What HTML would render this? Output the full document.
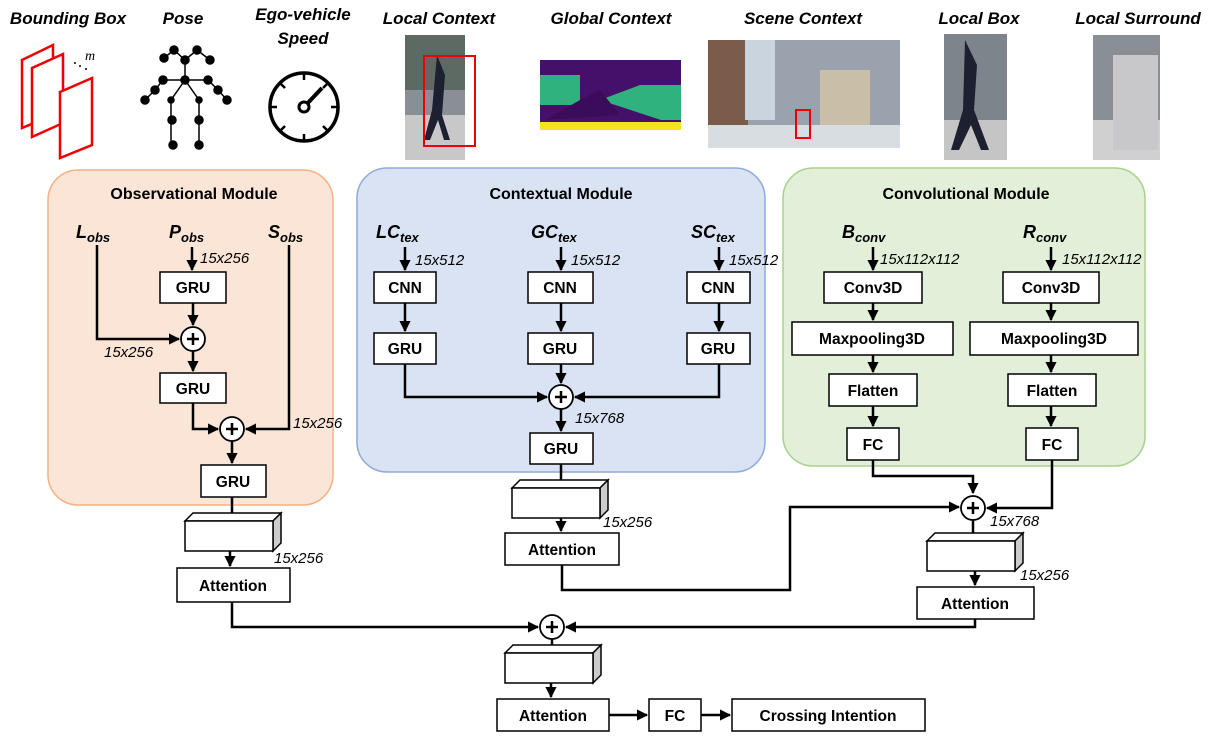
<!DOCTYPE html>
<html><head><meta charset="utf-8"><style>
html,body{margin:0;padding:0;background:#fff;}
svg{display:block;font-family:"Liberation Sans",sans-serif;}
.t{font-weight:bold;font-size:16px;}
.h{font-weight:bold;font-style:italic;font-size:17px;}
.b{font-weight:bold;font-size:15.5px;}
.d{font-style:italic;font-size:15px;}
.v{font-weight:bold;font-style:italic;font-size:18px;font-family:"Liberation Sans",sans-serif;}
.box{fill:#fff;stroke:#000;stroke-width:1.5;}
.ln{fill:none;stroke:#000;stroke-width:2.5;}
</style></head><body>
<svg width="1215" height="742" viewBox="0 0 1215 742" xmlns="http://www.w3.org/2000/svg">
<defs>
<marker id="a" viewBox="0 0 10 10" refX="9" refY="5" markerWidth="4.5" markerHeight="4.5" orient="auto"><path d="M0,0L10,5L0,10z" fill="#000"/></marker>
<g id="blk"><polygon points="0,8 8,0 96,0 88,8" fill="#fff" stroke="#000" stroke-width="1.5"/><polygon points="88,8 96,0 96,30 88,38" fill="#ccc" stroke="#000" stroke-width="1.5"/><rect x="0" y="8" width="88" height="30" class="box"/></g>
<g id="plus"><circle r="12" fill="#fff" stroke="#000" stroke-width="1.8"/><path d="M-6,0H6M0,-6V6" stroke="#000" stroke-width="2.5"/></g>
</defs>

<g class="h" text-anchor="middle">
<text x="68" y="24">Bounding Box</text><text x="183" y="24">Pose</text>
<text x="303" y="20">Ego-vehicle</text><text x="303" y="44">Speed</text>
<text x="439" y="24">Local Context</text><text x="611" y="24">Global Context</text>
<text x="803" y="24">Scene Context</text><text x="979" y="24">Local Box</text><text x="1138" y="24">Local Surround</text>
</g>
<g fill="#fff" stroke="#e00" stroke-width="2.5">
<polygon points="22,60 53,45 53,115 22,128"/><polygon points="32,68 63,54 63,123 32,137"/><polygon points="60,92 92,78 92,145 60,158"/>
</g>
<text x="85" y="60" font-style="italic" font-size="14" font-family="Liberation Serif">m</text>
<circle cx="75" cy="63" r="1" fill="#000"/><circle cx="80" cy="66" r="1" fill="#000"/><circle cx="86" cy="69" r="1" fill="#000"/>
<g stroke="#000" stroke-width="1.5" fill="#000">
<path d="M174,50L185,60L197,50L210,60M164,58L174,50M185,60V80M163,80H208M163,80L155,90L145,100M208,80L218,90L227,100M185,80L171,100V120V145M185,80L199,100V120V145" fill="none"/>
<circle cx="174" cy="50" r="4"/><circle cx="197" cy="50" r="4"/><circle cx="164" cy="58" r="4"/><circle cx="210" cy="60" r="4"/><circle cx="185" cy="60" r="4"/>
<circle cx="163" cy="80" r="4"/><circle cx="185" cy="80" r="4"/><circle cx="208" cy="80" r="4"/><circle cx="155" cy="90" r="4"/><circle cx="218" cy="90" r="4"/><circle cx="145" cy="100" r="4"/><circle cx="227" cy="100" r="4"/>
<circle cx="171" cy="100" r="3"/><circle cx="199" cy="100" r="3"/><circle cx="172" cy="120" r="4"/><circle cx="199" cy="120" r="4"/><circle cx="173" cy="145" r="4"/><circle cx="199" cy="145" r="4"/>
</g>
<g stroke="#000" fill="none"><circle cx="304" cy="107" r="34" stroke-width="3.5"/>
<path d="M304,73V80M304,141V134M270,107H277M338,107H331M280,83L285,88M328,83L323,88M280,131L285,126M328,131L323,126" stroke-width="2.5"/>
<path d="M304,107L322,88" stroke-width="4"/><circle cx="304" cy="107" r="5" stroke-width="3" fill="#fff"/></g>
<rect x="405" y="35" width="60" height="125" fill="#8a8f96"/><rect x="405" y="35" width="60" height="55" fill="#5d6a63"/><rect x="405" y="115" width="60" height="45" fill="#c8c8c8"/><path d="M437,55l8,20l-3,40l8,25l-6,0l-6,-20l-8,20l-6,0l8,-30z" fill="#1c2030"/><rect x="424" y="56" width="51" height="90" fill="none" stroke="#e00" stroke-width="2"/>
<rect x="540" y="60" width="141" height="70" fill="#45106a"/><path d="M540,75h40v30h-40z M600,100l40,-15h41v35h-20z" fill="#2fb27c"/><path d="M540,122h141v8h-141z" fill="#f3e420"/><path d="M545,120l35,-20l20,-10l20,25z" fill="#3a0c5a"/>
<rect x="708" y="40" width="192" height="108" fill="#9aa3ad"/><rect x="708" y="40" width="40" height="90" fill="#7b5b4a"/><rect x="745" y="40" width="30" height="80" fill="#c9d4de"/><rect x="820" y="70" width="50" height="60" fill="#c9bfa8"/><rect x="708" y="125" width="192" height="23" fill="#d8dde2"/><rect x="796" y="110" width="14" height="28" fill="none" stroke="#e00" stroke-width="2"/>
<rect x="944" y="34" width="63" height="126" fill="#7e848b"/><rect x="944" y="120" width="63" height="40" fill="#c5c5c5"/><path d="M965,40l12,25l-3,45l15,40l-8,0l-10,-25l-12,25l-8,0l12,-40z" fill="#1c2030"/>
<rect x="1093" y="35" width="67" height="125" fill="#8a8f96"/><rect x="1093" y="120" width="67" height="40" fill="#d0d0d0"/><rect x="1113" y="55" width="45" height="95" fill="#c8c8cb"/>

<rect x="48" y="170" width="285" height="335" rx="30" fill="#fbe5d6" stroke="#f4b183" stroke-width="1.5"/>
<rect x="357" y="168" width="408" height="304" rx="30" fill="#dae3f3" stroke="#8faadc" stroke-width="1.5"/>
<rect x="783" y="168" width="362" height="298" rx="30" fill="#e2f0d9" stroke="#a9d18e" stroke-width="1.5"/>
<g class="t" text-anchor="middle"><text x="194" y="199">Observational Module</text><text x="561" y="199">Contextual Module</text><text x="966" y="199">Convolutional Module</text></g>

<g class="v"><text x="76" y="238">L<tspan font-size="13" dy="4">obs</tspan></text><text x="169" y="238">P<tspan font-size="13" dy="4">obs</tspan></text><text x="268" y="238">S<tspan font-size="13" dy="4">obs</tspan></text></g>
<path class="ln" d="M192,247V270" marker-end="url(#a)"/>
<path class="ln" d="M97,245V339H179" marker-end="url(#a)"/>
<path class="ln" d="M193,303V325" marker-end="url(#a)"/>
<path class="ln" d="M193,351V371" marker-end="url(#a)"/>
<path class="ln" d="M193,403V429H218" marker-end="url(#a)"/>
<path class="ln" d="M289,245V429H246" marker-end="url(#a)"/>
<path class="ln" d="M232,441V463" marker-end="url(#a)"/>
<path class="ln" d="M232,497V517"/>
<path class="ln" d="M230,550V566" marker-end="url(#a)"/>
<rect x="160" y="272" width="66" height="31" class="box"/><rect x="160" y="373" width="66" height="30" class="box"/><rect x="201" y="465" width="65" height="32" class="box"/>
<use href="#plus" x="193" y="339"/><use href="#plus" x="232" y="429"/>
<g class="d"><text x="200" y="263">15x256</text><text x="104" y="357">15x256</text><text x="293" y="428">15x256</text><text x="274" y="563">15x256</text></g>
<use href="#blk" x="185" y="513"/>
<rect x="177" y="568" width="113" height="34" class="box"/>

<g class="v"><text x="376" y="238">LC<tspan font-size="13" dy="4">tex</tspan></text><text x="531" y="238">GC<tspan font-size="13" dy="4">tex</tspan></text><text x="691" y="238">SC<tspan font-size="13" dy="4">tex</tspan></text></g>
<path class="ln" d="M405,247V270" marker-end="url(#a)"/><path class="ln" d="M561,247V270" marker-end="url(#a)"/><path class="ln" d="M719,247V270" marker-end="url(#a)"/>
<path class="ln" d="M405,303V331" marker-end="url(#a)"/><path class="ln" d="M561,303V331" marker-end="url(#a)"/><path class="ln" d="M719,303V331" marker-end="url(#a)"/>
<path class="ln" d="M405,364V397H547" marker-end="url(#a)"/>
<path class="ln" d="M719,364V397H575" marker-end="url(#a)"/>
<path class="ln" d="M561,364V383" marker-end="url(#a)"/>
<path class="ln" d="M561,409V431" marker-end="url(#a)"/>
<path class="ln" d="M561,464V482"/>
<path class="ln" d="M561,518V531" marker-end="url(#a)"/>
<path class="ln" d="M562,565V590H790V507H959" marker-end="url(#a)"/>
<rect x="374" y="272" width="62" height="31" class="box"/><rect x="528" y="272" width="65" height="31" class="box"/><rect x="687" y="272" width="63" height="31" class="box"/>
<rect x="374" y="333" width="62" height="31" class="box"/><rect x="528" y="333" width="65" height="31" class="box"/><rect x="687" y="333" width="63" height="31" class="box"/>
<use href="#plus" x="561" y="397"/>
<rect x="530" y="433" width="63" height="31" class="box"/>
<use href="#blk" x="512" y="480"/>
<rect x="505" y="533" width="114" height="32" class="box"/>
<g class="d"><text x="415" y="265">15x512</text><text x="571" y="265">15x512</text><text x="729" y="265">15x512</text><text x="575" y="423">15x768</text><text x="603" y="527">15x256</text></g>

<g class="v"><text x="842" y="238">B<tspan font-size="13" dy="4">conv</tspan></text><text x="1023" y="238">R<tspan font-size="13" dy="4">conv</tspan></text></g>
<path class="ln" d="M873,247V270" marker-end="url(#a)"/><path class="ln" d="M1051,247V270" marker-end="url(#a)"/>
<path class="ln" d="M873,303V320" marker-end="url(#a)"/><path class="ln" d="M1051,303V320" marker-end="url(#a)"/>
<path class="ln" d="M873,355V372" marker-end="url(#a)"/><path class="ln" d="M1051,355V372" marker-end="url(#a)"/>
<path class="ln" d="M873,406V426" marker-end="url(#a)"/><path class="ln" d="M1051,406V426" marker-end="url(#a)"/>
<path class="ln" d="M873,460V476H973V493" marker-end="url(#a)"/>
<path class="ln" d="M1052,460V508H987" marker-end="url(#a)"/>
<path class="ln" d="M973,520V535"/>
<path class="ln" d="M975,570V585" marker-end="url(#a)"/>
<path class="ln" d="M975,619V627H566" marker-end="url(#a)"/>
<rect x="824" y="272" width="98" height="31" class="box"/><rect x="1003" y="272" width="96" height="31" class="box"/>
<rect x="792" y="322" width="161" height="33" class="box"/><rect x="970" y="322" width="168" height="33" class="box"/>
<rect x="829" y="374" width="88" height="32" class="box"/><rect x="1008" y="374" width="88" height="32" class="box"/>
<rect x="847" y="428" width="52" height="32" class="box"/><rect x="1026" y="428" width="52" height="32" class="box"/>
<use href="#plus" x="973" y="508"/>
<use href="#blk" x="927" y="533"/>
<rect x="917" y="587" width="117" height="32" class="box"/>
<g class="d"><text x="880" y="264">15x112x112</text><text x="1062" y="264">15x112x112</text><text x="990" y="526">15x768</text><text x="1020" y="580">15x256</text></g>

<path class="ln" d="M232,602V627H538" marker-end="url(#a)"/>
<use href="#plus" x="552" y="627"/>
<path class="ln" d="M552,639V647"/>
<use href="#blk" x="505" y="645"/>
<path class="ln" d="M551,683V697" marker-end="url(#a)"/>
<rect x="497" y="699" width="112" height="32" class="box"/>
<path class="ln" d="M609,715H647" marker-end="url(#a)"/>
<rect x="649" y="699" width="52" height="32" class="box"/>
<path class="ln" d="M701,715H730" marker-end="url(#a)"/>
<rect x="732" y="699" width="193" height="32" class="box"/>

<g class="b" text-anchor="middle">
<text x="193" y="293">GRU</text><text x="193" y="394">GRU</text><text x="233" y="487">GRU</text><text x="233" y="591">Attention</text>
<text x="405" y="293">CNN</text><text x="560" y="293">CNN</text><text x="718" y="293">CNN</text>
<text x="405" y="354">GRU</text><text x="560" y="354">GRU</text><text x="718" y="354">GRU</text>
<text x="561" y="454">GRU</text><text x="562" y="555">Attention</text>
<text x="873" y="293">Conv3D</text><text x="1051" y="293">Conv3D</text>
<text x="872" y="344">Maxpooling3D</text><text x="1054" y="344">Maxpooling3D</text>
<text x="873" y="396">Flatten</text><text x="1052" y="396">Flatten</text>
<text x="873" y="450">FC</text><text x="1052" y="450">FC</text>
<text x="975" y="609">Attention</text>
<text x="553" y="721">Attention</text><text x="675" y="721">FC</text><text x="828" y="721">Crossing Intention</text>
</g>
</svg>
</body></html>
